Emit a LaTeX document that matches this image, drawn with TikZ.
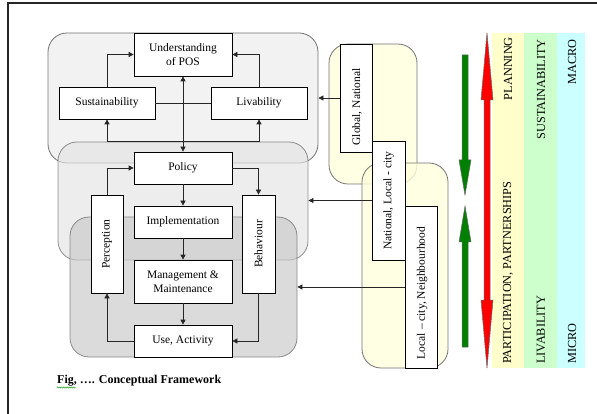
\documentclass[tikz,border=0pt]{standalone}
\usepackage{fontspec}
\setmainfont{Liberation Serif}
\usetikzlibrary{arrows.meta,decorations.pathmorphing}
\definecolor{regA}{HTML}{F2F2F2}
\definecolor{regB}{HTML}{E4E4E4}
\definecolor{regC}{HTML}{C8C8C8}
\definecolor{ylw}{HTML}{FFFFDC}
\definecolor{bandY}{HTML}{FFFFCC}
\definecolor{bandG}{HTML}{CCFFCC}
\definecolor{bandC}{HTML}{CCFFFF}
\definecolor{grn}{HTML}{008000}
\begin{document}
\begin{tikzpicture}[x=1pt,y=-1pt,
  region/.style={draw=black!55,line width=0.8pt,rounded corners=19pt,inner sep=0pt},
  box/.style={draw=black,fill=white,line width=0.7pt,inner sep=0pt,align=center,
    font=\fontsize{11.5}{13.5}\selectfont},
  vbox/.style={box,rotate=90},
  lbl/.style={inner sep=0pt,font=\fontsize{11.5}{13.5}\selectfont},
  blbl/.style={inner sep=0pt,rotate=90,font=\fontsize{12.3}{14}\selectfont},
  arr/.style={draw=black!85,line width=0.7pt,-{Triangle[length=5pt,width=5pt]}},
  darr/.style={draw=black!85,line width=0.7pt,{Triangle[length=5pt,width=5pt]}-{Triangle[length=5pt,width=5pt]}},
  con/.style={draw=black!85,line width=0.7pt},
  fat/.style={draw=black!60,line width=0.5pt}]
\useasboundingbox (0,0) rectangle (597,414);
% frame
\draw[line width=1.5pt,black!85] (8,420) -- (8,3) -- (600,3);
% grey regions
\node[region,fill=regA,minimum width=270pt,minimum height=130pt] (r1) at (183,98) {};
\node[region,fill=regB,fill opacity=0.65,draw opacity=0.8,minimum width=250pt,minimum height=118pt] (r2) at (183,201) {};
\node[region,fill=regC,fill opacity=0.65,draw opacity=0.8,minimum width=227pt,minimum height=140pt] (r3) at (183.5,287) {};
% yellow regions
\node[region,fill=ylw,fill opacity=0.8,minimum width=88pt,minimum height=140pt] (ya) at (373,114) {};
\node[region,fill=ylw,fill opacity=0.8,minimum width=86pt,minimum height=205pt] (yb) at (405,265.5) {};
% boxes
\node[box,minimum width=98pt,minimum height=43pt] (und) at (183,54.5) {Understanding\\of POS};
\node[box,minimum width=96pt,minimum height=32pt] (sus) at (107,103) {Sustainability};
\node[box,minimum width=96pt,minimum height=32pt] (liv) at (259,103) {Livability};
\node[box,minimum width=98pt,minimum height=32pt] (pol) at (183,168) {Policy};
\node[box,minimum width=98pt,minimum height=32pt] (imp) at (183,222) {Implementation};
\node[box,minimum width=98pt,minimum height=43pt] (mm) at (183,281.5) {Management \&\\Maintenance};
\node[box,minimum width=98pt,minimum height=32pt] (use) at (183,341) {Use, Activity};
\node[vbox,minimum width=98pt,minimum height=32pt] (per) at (107,244) {Perception};
\node[vbox,minimum width=98pt,minimum height=33pt] (beh) at (258.5,244) {Behaviour};
% right boxes
\node[vbox,minimum width=108pt,minimum height=32pt] (glob) at (356,98) {};
\node[lbl,rotate=90] (globt) at (357,107) {Global, National};
\node[vbox,minimum width=119pt,minimum height=33pt] (natl) at (388.5,200.5) {National, Local - city};
\node[vbox,minimum width=162pt,minimum height=32pt] (locl) at (421,287) {};
\node[lbl,rotate=90] (loclt) at (422,293) {Local -- city, Neighbourhood};
% connectors
\coordinate (jn) at (183,141);
\draw[arr] (sus.north) |- (und.west);
\draw[arr] (liv.north) |- (und.east);
\draw[con] (sus.east) -- (liv.west);
\draw[arr] (jn) -| (sus.south);
\draw[arr] (jn) -| (liv.south);
\draw[darr] (und.south) -- (pol.north);
\draw[arr] (pol.south) -- (imp.north);
\draw[arr] (imp.south) -- (mm.north);
\draw[arr] (mm.south) -- (use.north);
\draw[arr] (per.east) |- (pol.west);
\draw[arr] (pol.east) -| (beh.east);
\draw[arr] (beh.west) |- (use.east);
\draw[arr] (use.west) -| (per.west);
\draw[arr] (glob.north) -- (glob.north -| r1.east);
\draw[arr] (natl.north) -- (natl.north -| r2.east);
\draw[arr] (locl.north) -- (locl.north -| r3.east);
% bands
\fill[bandY] (492,33) rectangle (524,368);
\fill[bandG] (524,33) rectangle (557,368);
\fill[bandC] (557,33) rectangle (585,368);
\node[blbl,anchor=east] (plan) at (508,37) {PLANNING};
\node[blbl,anchor=west] (part) at (508,364) {PARTICIPATION, PARTNERSHIPS};
\node[blbl,anchor=east] (sust) at (541,39) {SUSTAINABILITY};
\node[blbl,anchor=west] (livb) at (541,364) {LIVABILITY};
\node[blbl,anchor=east] (macro) at (572,39) {MACRO};
\node[blbl,anchor=west] (micro) at (572,364) {MICRO};
% fat arrows
\filldraw[fat,fill=grn] (462,55) -- (468,55) -- (468,160) -- (471,160) -- (465,195) -- (459,160) -- (462,160) -- cycle;
\filldraw[fat,fill=grn] (462,347) -- (468,347) -- (468,242) -- (471,242) -- (465,206) -- (459,242) -- (462,242) -- cycle;
\filldraw[fat,fill=red] (487,33) -- (493,100) -- (490,100) -- (490,300) -- (493,300) -- (487,368) -- (481,300) -- (484,300) -- (484,100) -- (481,100) -- cycle;
% caption
\node[inner sep=0pt,anchor=west,font=\fontsize{12}{14}\selectfont\bfseries] (cap) at (57,381) {Fig, …. Conceptual Framework};
\draw[green!60!black,line width=0.4pt,decorate,decoration={snake,amplitude=0.6pt,segment length=2pt}] (57,387.5) -- (76,387.5);
\end{tikzpicture}
\end{document}
